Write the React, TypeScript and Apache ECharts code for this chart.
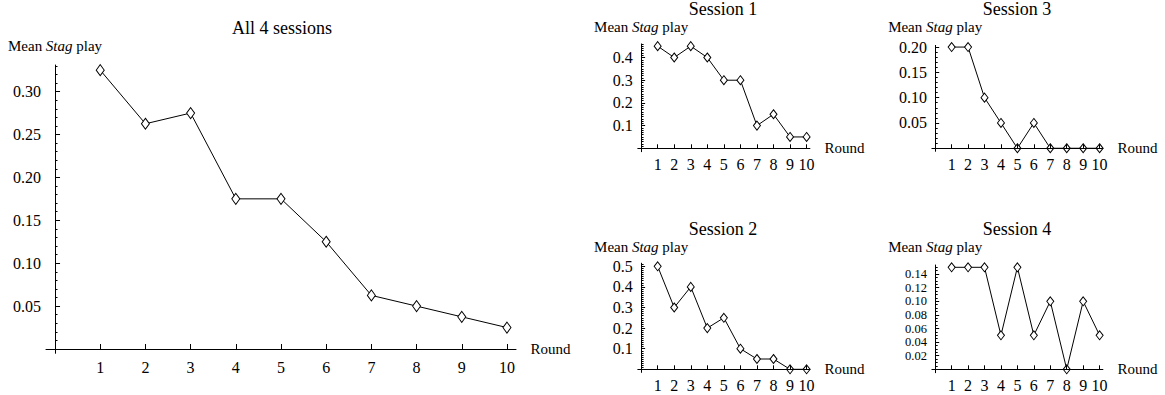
import React, { useEffect, useRef } from "react";
import * as echarts from "echarts";

// ---- Data ----
const rounds = [1, 2, 3, 4, 5, 6, 7, 8, 9, 10];
const allSessions = [0.325, 0.2625, 0.275, 0.175, 0.175, 0.125, 0.0625, 0.05, 0.0375, 0.025];
const session1 = [0.45, 0.4, 0.45, 0.4, 0.3, 0.3, 0.1, 0.15, 0.05, 0.05];
const session2 = [0.5, 0.3, 0.4, 0.2, 0.25, 0.1, 0.05, 0.05, 0, 0];
const session3 = [0.2, 0.2, 0.1, 0.05, 0, 0.05, 0, 0, 0, 0];
const session4 = [0.15, 0.15, 0.15, 0.05, 0.15, 0.05, 0.1, 0, 0.1, 0.05];

const titles = ["All 4 sessions", "Session 1", "Session 2", "Session 3", "Session 4"];
const ticksAll = [0.05, 0.1, 0.15, 0.2, 0.25, 0.3];
const ticksS1 = [0.1, 0.2, 0.3, 0.4];
const ticksS2 = [0.1, 0.2, 0.3, 0.4, 0.5];
const ticksS3 = [0.05, 0.1, 0.15, 0.2];
const ticksS4 = [0.02, 0.04, 0.06, 0.08, 0.1, 0.12, 0.14];
const yName = "Mean {i|Stag} play";
const xName = "Round";

const FONT = "Liberation Serif";

function steps(step: number, max: number) {
  const out: number[] = [];
  for (let i = 1; i * step <= max + 1e-9; i++) out.push(+(i * step).toFixed(4));
  return out;
}

// ---- Layout (positions, sizes) ----
type Panel = {
  title: string; values: number[]; majors: number[]; minorStep: number; decimals: number;
  left: number; width: number; top: number; height: number;
  yMin: number; yMax: number; x0: number;
  symbol: number[]; nameGap: number; titleX: number; titleY: number;
  labelSize: number; labelLine: number; small: boolean;
};

const panels: Panel[] = [
  { title: titles[0], values: allSessions, majors: ticksAll, minorStep: 0.01, decimals: 2,
    left: 46, width: 470, top: 65, height: 288.3, yMin: -0.005, yMax: 0.331, x0: 55,
    symbol: [8, 11], nameGap: 12, titleX: 282, titleY: 28, labelSize: 16, labelLine: 18, small: false },
  { title: titles[1], values: session1, majors: ticksS1, minorStep: 0.01, decimals: 1,
    left: 637.8, width: 172.1, top: 43.9, height: 107.8, yMin: -0.015, yMax: 0.46, x0: 641.1,
    symbol: [7, 9], nameGap: 9.5, titleX: 723, titleY: 9, labelSize: 16, labelLine: 18, small: true },
  { title: titles[2], values: session2, majors: ticksS2, minorStep: 0.01, decimals: 1,
    left: 637.8, width: 172.1, top: 263.2, height: 109.2, yMin: -0.015, yMax: 0.515, x0: 641.1,
    symbol: [7, 9], nameGap: 9, titleX: 723, titleY: 228.5, labelSize: 16, labelLine: 18, small: true },
  { title: titles[3], values: session3, majors: ticksS3, minorStep: 0.01, decimals: 2,
    left: 931.9, width: 171, top: 45.4, height: 105.9, yMin: -0.006, yMax: 0.2033, x0: 935.2,
    symbol: [7, 9], nameGap: 10.5, titleX: 1017, titleY: 9, labelSize: 16, labelLine: 18, small: true },
  { title: titles[4], values: session4, majors: ticksS4, minorStep: 0.005, decimals: 2,
    left: 931.9, width: 171, top: 265, height: 107.7, yMin: -0.005, yMax: 0.1534, x0: 935.2,
    symbol: [7, 9], nameGap: 10.5, titleX: 1017, titleY: 228.5, labelSize: 12.5, labelLine: 12.5, small: true },
];

function buildOption() {
  const grid: any[] = [];
  const xAxis: any[] = [];
  const yAxis: any[] = [];
  const series: any[] = [];
  const graphic: any[] = [];
  const black = "#000";

  panels.forEach((p) => {
    const gi = grid.length;
    grid.push({ left: p.left, top: p.top, width: p.width, height: p.height, containLabel: false });
    grid.push({ left: p.x0, top: p.top, width: 10, height: p.height, containLabel: false });

    xAxis.push({
      type: "value", gridIndex: gi, min: -0.2, max: 10.2, z: 3,
      axisLine: { show: true, onZero: true, lineStyle: { color: black, width: 1 } },
      axisTick: { show: true, inside: true, length: p.small ? 4 : 5, customValues: rounds, lineStyle: { color: black } },
      axisLabel: { show: true, customValues: rounds, margin: p.small ? 5 : 6, color: black, fontFamily: FONT, fontSize: 16,
        showMinLabel: true, showMaxLabel: true, hideOverlap: false },
      splitLine: { show: false },
      name: xName, nameLocation: "end", nameGap: 14.5,
      nameTextStyle: { color: black, fontFamily: FONT, fontSize: 15, verticalAlign: "middle" },
    });
    xAxis.push({ type: "value", gridIndex: gi + 1, min: 0, max: 1, show: false });

    yAxis.push({
      type: "value", gridIndex: gi, min: p.yMin, max: p.yMax, z: 3,
      axisLine: { show: true, onZero: true, lineStyle: { color: black, width: 1 } },
      axisTick: { show: true, inside: true, length: p.small ? 4 : 5, customValues: p.majors, lineStyle: { color: black } },
      axisLabel: {
        show: true, customValues: p.majors, margin: 5, color: black, fontFamily: FONT,
        fontSize: p.labelSize, lineHeight: p.labelLine,
        showMinLabel: true, showMaxLabel: true, hideOverlap: false,
        formatter: (v: number) => v.toFixed(p.decimals),
      },
      splitLine: { show: false },
      name: yName, nameLocation: "end", nameGap: p.nameGap,
      nameTextStyle: {
        color: black, fontFamily: FONT, fontSize: 15,
        rich: { i: { fontStyle: "italic", fontFamily: FONT, fontSize: 15, color: black } },
      },
    });
    yAxis.push({
      type: "value", gridIndex: gi + 1, min: p.yMin, max: p.yMax, z: 3,
      axisLine: { show: false },
      axisTick: { show: true, inside: true, length: 2.5, customValues: steps(p.minorStep, p.yMax), lineStyle: { color: black } },
      axisLabel: { show: false },
      splitLine: { show: false },
    });

    series.push({
      type: "line", xAxisIndex: gi, yAxisIndex: gi, z: 2,
      data: rounds.map((r, i) => [r, p.values[i]]),
      symbol: "diamond", symbolSize: p.symbol, showSymbol: true,
      itemStyle: { color: "#fff", borderColor: black, borderWidth: 1 },
      lineStyle: { color: black, width: 1 },
      emphasis: { disabled: true },
    });

    graphic.push({
      type: "text", x: p.titleX, y: p.titleY,
      style: { text: p.title, align: "center", verticalAlign: "middle", fill: black, font: `18px "${FONT}"` },
    });
  });

  return { animation: false, backgroundColor: "#fff", grid, xAxis, yAxis, series, graphic };
}

export default function App() {
  const ref = useRef<HTMLDivElement>(null);
  useEffect(() => {
    if (!ref.current) return;
    const chart = echarts.init(ref.current, undefined, { renderer: "svg" });
    chart.setOption(buildOption());
    return () => chart.dispose();
  }, []);
  return <div ref={ref} style={{ position: "absolute", left: 0, top: 0, width: 1165, height: 395 }} />;
}
